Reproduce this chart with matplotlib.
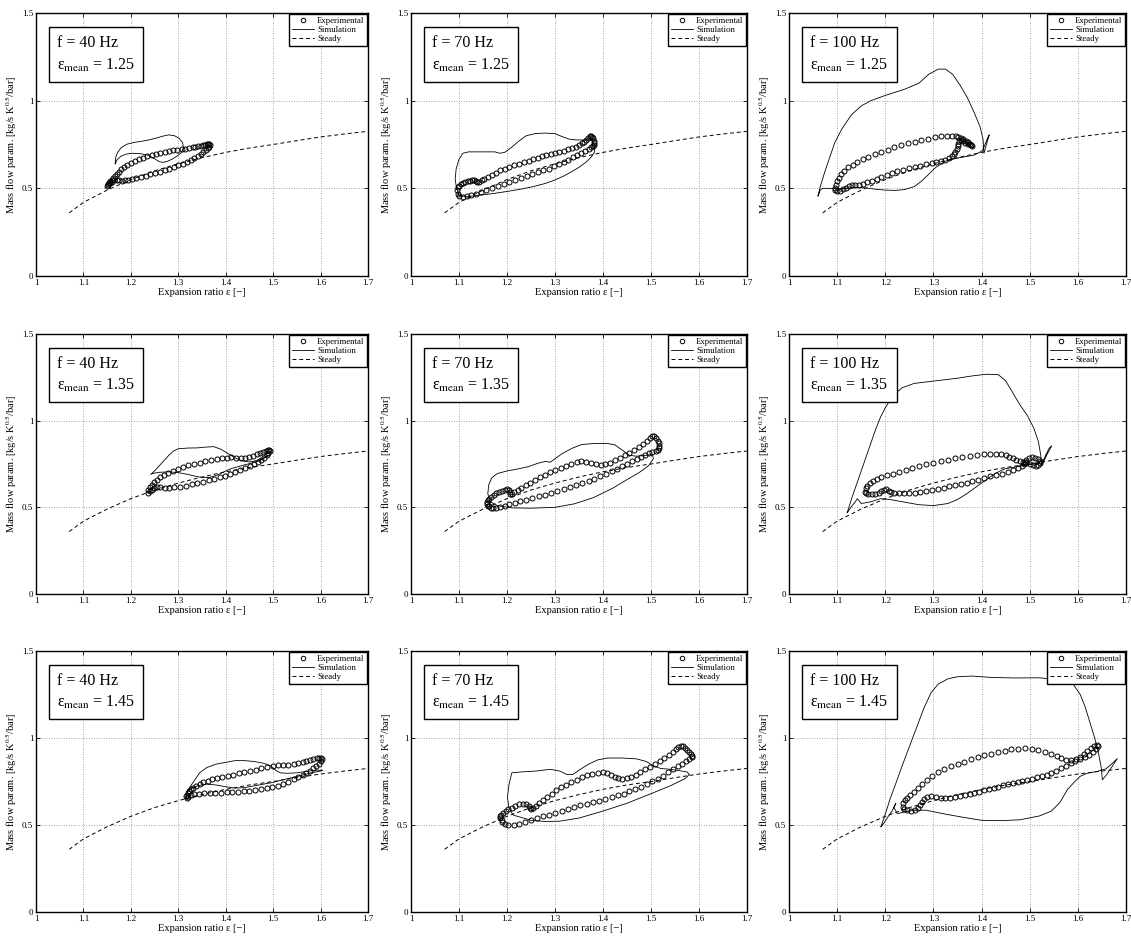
import numpy as np
import matplotlib
matplotlib.use('Agg')
import matplotlib.pyplot as plt

plt.rcParams['font.family'] = ['Liberation Serif', 'DejaVu Serif']
plt.rcParams['mathtext.fontset'] = 'stix'
plt.rcParams['mathtext.rm'] = 'Liberation Serif'

FREQS = [40, 70, 100]
EPS_MEANS = [1.25, 1.35, 1.45]
X_TICKS = [1.0, 1.1, 1.2, 1.3, 1.4, 1.5, 1.6, 1.7]
X_TICKLABELS = ['1', '1.1', '1.2', '1.3', '1.4', '1.5', '1.6', '1.7']
Y_TICKS = [0.0, 0.5, 1.0, 1.5]
Y_TICKLABELS = ['0', '0.5', '1', '1.5']

STEADY_X = [1.07, 1.10, 1.15, 1.20, 1.25, 1.30, 1.35, 1.40, 1.45, 1.50, 1.55, 1.60, 1.65, 1.70]
STEADY_Y = [0.36, 0.42, 0.49, 0.55, 0.60, 0.64, 0.675, 0.705, 0.73, 0.75, 0.772, 0.793, 0.81, 0.825]

# ---------------- 40 Hz, eps_mean = 1.25 ----------------
EXP_40_125 = [(1.150,0.515),(1.152,0.522),(1.154,0.530),(1.157,0.540),(1.160,0.550),(1.163,0.560),(1.166,0.570),
 (1.170,0.582),(1.174,0.595),(1.179,0.608),(1.185,0.620),(1.192,0.633),(1.200,0.645),(1.208,0.656),(1.217,0.666),
 (1.226,0.675),(1.235,0.683),(1.244,0.690),(1.253,0.696),(1.262,0.701),(1.271,0.706),(1.280,0.711),(1.289,0.716),
 (1.298,0.720),(1.307,0.724),(1.315,0.727),(1.323,0.730),(1.330,0.733),(1.336,0.736),(1.342,0.739),(1.347,0.742),
 (1.352,0.745),(1.356,0.748),(1.360,0.750),(1.363,0.752),(1.365,0.751),
 (1.366,0.745),(1.365,0.738),(1.362,0.728),(1.358,0.717),(1.353,0.705),(1.347,0.693),(1.341,0.682),(1.334,0.671),
 (1.326,0.660),(1.318,0.650),(1.309,0.640),(1.300,0.631),(1.291,0.622),(1.281,0.613),(1.271,0.604),(1.261,0.596),
 (1.251,0.588),(1.241,0.580),(1.231,0.573),(1.221,0.566),(1.211,0.559),(1.202,0.553),(1.194,0.548),(1.187,0.545),
 (1.181,0.544),(1.175,0.546),(1.170,0.549),(1.165,0.545),(1.160,0.537),(1.155,0.528),(1.151,0.518)]
SIM_40_125 = [(1.167,0.640),(1.168,0.675),(1.172,0.705),(1.180,0.733),(1.192,0.752),(1.207,0.762),(1.222,0.768),
 (1.238,0.776),(1.254,0.787),(1.268,0.798),(1.280,0.805),(1.292,0.800),(1.302,0.785),(1.309,0.760),(1.311,0.730),
 (1.307,0.705),(1.298,0.685),(1.288,0.668),(1.278,0.655),(1.268,0.648),(1.260,0.652),(1.252,0.665),(1.243,0.680),
 (1.232,0.692),(1.218,0.698),(1.203,0.700),(1.190,0.695),(1.179,0.683),(1.171,0.663),(1.167,0.640)]

# ---------------- 70 Hz, eps_mean = 1.25 ----------------
EXP_70_125 = [(1.101,0.455),(1.097,0.470),(1.096,0.490),(1.097,0.505),(1.100,0.515),(1.104,0.525),(1.108,0.532),
 (1.113,0.537),(1.118,0.540),(1.123,0.542),(1.128,0.545),(1.132,0.545),(1.135,0.540),(1.138,0.535),(1.142,0.537),
 (1.147,0.545),(1.153,0.555),(1.160,0.566),(1.168,0.578),(1.177,0.590),(1.186,0.602),(1.195,0.613),(1.205,0.623),
 (1.215,0.632),(1.225,0.640),(1.235,0.648),(1.245,0.656),(1.255,0.665),(1.264,0.675),(1.273,0.685),(1.282,0.692),
 (1.291,0.698),(1.300,0.704),(1.309,0.709),(1.318,0.715),(1.327,0.722),(1.335,0.730),(1.343,0.738),(1.350,0.747),
 (1.356,0.757),(1.361,0.767),(1.365,0.777),(1.369,0.787),(1.372,0.796),(1.375,0.800),(1.377,0.795),(1.379,0.785),
 (1.381,0.772),(1.382,0.760),
 (1.382,0.748),(1.380,0.740),(1.376,0.733),(1.370,0.725),(1.362,0.715),(1.354,0.703),(1.346,0.690),(1.337,0.676),
 (1.328,0.663),(1.318,0.650),(1.308,0.637),(1.298,0.625),(1.287,0.613),(1.276,0.602),(1.265,0.591),(1.253,0.580),
 (1.241,0.569),(1.229,0.558),(1.217,0.547),(1.205,0.536),(1.193,0.525),(1.181,0.513),(1.169,0.501),(1.157,0.489),
 (1.146,0.478),(1.135,0.469),(1.125,0.461),(1.116,0.456),(1.108,0.453)]
SIM_70_125 = [(1.100,0.460),(1.095,0.500),(1.092,0.550),(1.094,0.610),(1.100,0.665),(1.108,0.700),(1.120,0.708),
 (1.140,0.708),(1.160,0.708),(1.175,0.708),(1.185,0.700),(1.195,0.705),(1.210,0.735),(1.225,0.770),(1.240,0.800),
 (1.260,0.813),(1.280,0.815),(1.300,0.812),(1.315,0.795),(1.330,0.780),(1.345,0.776),(1.358,0.776),(1.370,0.778),
 (1.378,0.772),(1.383,0.740),(1.382,0.705),(1.376,0.680),(1.365,0.650),(1.350,0.620),(1.335,0.595),(1.318,0.570),
 (1.300,0.548),(1.280,0.528),(1.255,0.510),(1.230,0.496),(1.200,0.482),(1.170,0.470),(1.140,0.460),(1.115,0.452),
 (1.100,0.460)]

# ---------------- 100 Hz, eps_mean = 1.25 ----------------
EXP_100_125 = [(1.095,0.500),(1.097,0.520),(1.100,0.540),(1.104,0.560),(1.109,0.580),(1.115,0.600),(1.123,0.620),
 (1.132,0.635),(1.142,0.650),(1.153,0.665),(1.165,0.680),(1.178,0.694),(1.191,0.707),(1.205,0.720),(1.219,0.733),
 (1.233,0.745),(1.247,0.756),(1.261,0.766),(1.275,0.775),(1.289,0.784),(1.303,0.792),(1.316,0.798),(1.328,0.801),
 (1.338,0.800),(1.346,0.797),(1.352,0.793),(1.357,0.787),(1.362,0.780),(1.367,0.772),(1.372,0.763),(1.376,0.754),
 (1.379,0.747),(1.381,0.742),(1.378,0.745),(1.372,0.752),(1.366,0.760),(1.361,0.770),(1.357,0.778),(1.354,0.770),
 (1.352,0.755),(1.350,0.740),(1.348,0.725),(1.345,0.710),(1.342,0.695),(1.338,0.682),(1.332,0.672),(1.325,0.664),
 (1.316,0.656),(1.306,0.649),(1.296,0.643),(1.285,0.637),(1.273,0.630),(1.261,0.623),(1.249,0.615),(1.237,0.607),
 (1.225,0.598),(1.214,0.589),(1.203,0.578),(1.192,0.566),(1.182,0.555),(1.172,0.544),(1.163,0.534),(1.154,0.526),
 (1.145,0.521),(1.137,0.519),(1.130,0.518),(1.124,0.512),(1.118,0.503),(1.112,0.494),(1.106,0.487),(1.100,0.484),
 (1.096,0.490)]
SIM_100_125 = [(1.062,0.470),(1.060,0.455),(1.065,0.510),(1.075,0.600),(1.085,0.680),(1.095,0.760),(1.110,0.840),
 (1.130,0.920),(1.150,0.970),(1.170,1.000),(1.200,1.030),(1.240,1.065),(1.270,1.100),(1.290,1.150),(1.310,1.180),
 (1.325,1.180),(1.340,1.150),(1.355,1.090),(1.370,1.020),(1.385,0.930),(1.397,0.850),(1.403,0.780),(1.405,0.700),
 (1.410,0.750),(1.416,0.805),(1.413,0.790),(1.402,0.715),(1.385,0.690),(1.365,0.680),(1.345,0.670),(1.325,0.655),
 (1.305,0.620),(1.290,0.580),(1.275,0.540),(1.260,0.510),(1.240,0.493),(1.220,0.488),(1.200,0.490),(1.180,0.495),
 (1.160,0.502),(1.140,0.505),(1.120,0.500),(1.100,0.498),(1.080,0.500),(1.070,0.500),(1.065,0.490),(1.062,0.470)]

# ---------------- 40 Hz, eps_mean = 1.35 ----------------
EXP_40_135 = [(1.236,0.585),(1.237,0.600),(1.240,0.615),(1.244,0.630),(1.249,0.645),(1.255,0.660),(1.262,0.674),
 (1.270,0.688),(1.279,0.700),(1.289,0.712),(1.299,0.723),(1.310,0.733),(1.321,0.742),(1.333,0.750),(1.345,0.758),
 (1.357,0.766),(1.369,0.773),(1.381,0.779),(1.392,0.784),(1.402,0.787),(1.412,0.788),(1.422,0.786),(1.432,0.785),
 (1.441,0.787),(1.449,0.791),(1.457,0.797),(1.465,0.805),(1.472,0.813),(1.478,0.820),(1.484,0.826),(1.489,0.830),
 (1.492,0.830),
 (1.493,0.825),(1.490,0.812),(1.486,0.800),(1.481,0.787),(1.475,0.774),(1.468,0.761),(1.460,0.749),(1.451,0.737),
 (1.441,0.725),(1.431,0.714),(1.420,0.703),(1.409,0.692),(1.398,0.682),(1.387,0.673),(1.376,0.664),(1.364,0.656),
 (1.352,0.648),(1.340,0.640),(1.328,0.632),(1.316,0.625),(1.304,0.619),(1.292,0.615),(1.281,0.613),(1.271,0.614),
 (1.262,0.617),(1.255,0.619),(1.249,0.612),(1.244,0.602),(1.240,0.592)]
SIM_40_135 = [(1.242,0.690),(1.250,0.710),(1.260,0.740),(1.270,0.770),(1.280,0.800),(1.290,0.825),(1.300,0.838),
 (1.320,0.842),(1.340,0.843),(1.360,0.848),(1.375,0.850),(1.390,0.835),(1.405,0.810),(1.420,0.785),(1.435,0.768),
 (1.450,0.762),(1.465,0.770),(1.480,0.785),(1.490,0.800),(1.485,0.790),(1.470,0.768),(1.450,0.752),(1.430,0.738),
 (1.410,0.722),(1.395,0.703),(1.380,0.684),(1.365,0.672),(1.350,0.672),(1.335,0.680),(1.320,0.690),(1.300,0.700),
 (1.280,0.705),(1.260,0.702),(1.245,0.695)]

# ---------------- 70 Hz, eps_mean = 1.35 ----------------
EXP_70_135 = [(1.160,0.510),(1.158,0.520),(1.158,0.530),(1.160,0.540),(1.163,0.550),(1.167,0.560),(1.172,0.570),
 (1.177,0.580),(1.183,0.590),(1.189,0.597),(1.195,0.602),(1.200,0.603),(1.204,0.598),(1.206,0.588),(1.207,0.578),
 (1.210,0.578),(1.215,0.588),(1.222,0.600),(1.230,0.614),(1.239,0.628),(1.248,0.643),(1.258,0.658),(1.268,0.673),
 (1.279,0.688),(1.290,0.702),(1.301,0.715),(1.312,0.728),(1.323,0.740),(1.334,0.752),(1.345,0.761),(1.355,0.765),
 (1.365,0.762),(1.375,0.755),(1.385,0.748),(1.395,0.745),(1.405,0.748),(1.415,0.758),(1.425,0.771),(1.435,0.785),
 (1.445,0.800),(1.455,0.815),(1.465,0.830),(1.475,0.846),(1.484,0.863),(1.491,0.880),(1.497,0.898),(1.502,0.910),
 (1.507,0.910),(1.511,0.900),(1.514,0.885),(1.516,0.870),(1.517,0.855),(1.517,0.840),
 (1.515,0.830),(1.510,0.825),(1.503,0.820),(1.496,0.812),(1.488,0.803),(1.479,0.792),(1.470,0.780),(1.460,0.766),
 (1.450,0.752),(1.440,0.737),(1.429,0.722),(1.418,0.707),(1.406,0.692),(1.394,0.678),(1.382,0.665),(1.370,0.653),
 (1.357,0.641),(1.344,0.629),(1.331,0.617),(1.318,0.605),(1.305,0.594),(1.292,0.584),(1.279,0.574),(1.266,0.564),
 (1.253,0.554),(1.240,0.545),(1.228,0.536),(1.216,0.527),(1.205,0.518),(1.195,0.509),(1.186,0.501),(1.178,0.495),
 (1.171,0.494),(1.166,0.498),(1.162,0.505)]
SIM_70_135 = [(1.164,0.534),(1.160,0.580),(1.162,0.630),(1.168,0.670),(1.180,0.695),(1.200,0.710),(1.220,0.720),
 (1.245,0.735),(1.265,0.755),(1.280,0.765),(1.290,0.760),(1.300,0.780),(1.315,0.810),(1.335,0.840),(1.355,0.862),
 (1.380,0.868),(1.410,0.868),(1.425,0.860),(1.440,0.830),(1.455,0.800),(1.470,0.795),(1.490,0.800),(1.503,0.805),
 (1.505,0.780),(1.495,0.740),(1.475,0.700),(1.450,0.660),(1.420,0.610),(1.380,0.556),(1.340,0.520),(1.300,0.500),
 (1.250,0.495),(1.210,0.497),(1.180,0.510),(1.164,0.534)]

# ---------------- 100 Hz, eps_mean = 1.35 ----------------
EXP_100_135 = [(1.158,0.590),(1.160,0.610),(1.163,0.625),(1.168,0.638),(1.175,0.650),(1.183,0.662),(1.192,0.673),
 (1.203,0.684),(1.215,0.695),(1.228,0.706),(1.242,0.717),(1.256,0.728),(1.270,0.738),(1.285,0.748),(1.300,0.757),
 (1.315,0.766),(1.330,0.775),(1.345,0.783),(1.360,0.790),(1.375,0.797),(1.390,0.803),(1.405,0.808),(1.418,0.810),
 (1.430,0.810),(1.440,0.807),(1.450,0.800),(1.458,0.792),(1.465,0.783),(1.472,0.774),(1.479,0.766),(1.486,0.760),
 (1.493,0.755),
 (1.500,0.750),(1.507,0.743),(1.513,0.740),(1.518,0.745),(1.521,0.755),(1.521,0.767),(1.518,0.778),(1.512,0.786),
 (1.505,0.788),(1.498,0.782),(1.493,0.772),(1.490,0.760),(1.488,0.750),
 (1.484,0.738),(1.476,0.725),(1.466,0.713),(1.455,0.703),(1.443,0.694),(1.430,0.686),(1.417,0.678),(1.405,0.669),
 (1.393,0.659),(1.381,0.650),(1.369,0.642),(1.357,0.635),(1.345,0.628),(1.333,0.621),(1.321,0.614),(1.309,0.607),
 (1.297,0.600),(1.285,0.594),(1.273,0.589),(1.261,0.585),(1.249,0.582),(1.238,0.580),(1.228,0.580),(1.219,0.582),
 (1.212,0.588),(1.207,0.597),(1.202,0.604),(1.197,0.602),(1.192,0.594),(1.186,0.585),(1.179,0.579),(1.172,0.577),
 (1.165,0.578),(1.160,0.583)]
SIM_100_135 = [(1.121,0.470),(1.130,0.550),(1.140,0.630),(1.150,0.710),(1.160,0.790),(1.170,0.870),(1.180,0.950),
 (1.190,1.020),(1.200,1.075),(1.215,1.140),(1.235,1.190),(1.260,1.215),(1.290,1.225),(1.320,1.235),(1.350,1.245),
 (1.380,1.258),(1.410,1.268),(1.435,1.265),(1.450,1.230),(1.465,1.160),(1.480,1.090),(1.495,1.030),(1.508,0.960),
 (1.518,0.880),(1.523,0.800),(1.525,0.740),(1.535,0.800),(1.546,0.856),(1.540,0.840),(1.528,0.770),(1.515,0.752),
 (1.495,0.746),(1.470,0.733),(1.448,0.722),(1.428,0.695),(1.410,0.660),(1.390,0.620),(1.370,0.580),(1.350,0.545),
 (1.330,0.522),(1.300,0.510),(1.270,0.515),(1.240,0.530),(1.210,0.545),(1.190,0.550),(1.170,0.532),(1.150,0.522),
 (1.142,0.550),(1.137,0.530),(1.130,0.505),(1.121,0.470)]

# ---------------- 40 Hz, eps_mean = 1.45 ----------------
EXP_40_145 = [(1.318,0.655),(1.317,0.665),(1.318,0.675),(1.320,0.685),(1.323,0.695),(1.327,0.705),(1.332,0.715),
 (1.338,0.725),(1.345,0.735),(1.353,0.745),(1.362,0.754),(1.372,0.762),(1.382,0.769),(1.393,0.776),(1.404,0.783),
 (1.415,0.790),(1.427,0.797),(1.439,0.804),(1.451,0.811),(1.463,0.818),(1.475,0.825),(1.487,0.832),(1.499,0.838),
 (1.510,0.842),(1.521,0.845),(1.532,0.847),(1.543,0.850),(1.553,0.855),(1.562,0.862),(1.570,0.869),(1.578,0.876),
 (1.585,0.882),(1.592,0.886),(1.597,0.887),(1.601,0.884),
 (1.602,0.877),(1.600,0.865),(1.596,0.852),(1.591,0.839),(1.585,0.826),(1.578,0.813),(1.570,0.800),(1.562,0.787),
 (1.553,0.775),(1.543,0.762),(1.532,0.748),(1.521,0.735),(1.510,0.725),(1.498,0.716),(1.486,0.710),(1.474,0.705),
 (1.462,0.700),(1.450,0.697),(1.438,0.694),(1.426,0.692),(1.414,0.690),(1.402,0.688),(1.390,0.686),(1.378,0.685),
 (1.366,0.684),(1.354,0.683),(1.343,0.681),(1.334,0.677),(1.327,0.670),(1.321,0.662)]
SIM_40_145 = [(1.318,0.690),(1.325,0.720),(1.335,0.760),(1.345,0.800),(1.360,0.830),(1.380,0.850),(1.400,0.860),
 (1.420,0.870),(1.440,0.870),(1.460,0.865),(1.480,0.855),(1.495,0.840),(1.505,0.815),(1.515,0.800),(1.530,0.797),
 (1.550,0.800),(1.570,0.808),(1.590,0.815),(1.605,0.815),(1.600,0.810),(1.580,0.800),(1.560,0.785),(1.540,0.772),
 (1.520,0.760),(1.500,0.745),(1.480,0.735),(1.460,0.725),(1.440,0.715),(1.420,0.712),(1.400,0.720),(1.380,0.730),
 (1.360,0.735),(1.340,0.725),(1.325,0.705),(1.318,0.690)]

# ---------------- 70 Hz, eps_mean = 1.45 ----------------
EXP_70_145 = [(1.190,0.530),(1.186,0.540),(1.186,0.550),(1.188,0.560),(1.192,0.570),(1.197,0.580),(1.203,0.590),
 (1.210,0.600),(1.217,0.610),(1.225,0.618),(1.233,0.622),(1.240,0.620),(1.245,0.612),(1.248,0.600),(1.250,0.592),
 (1.254,0.595),(1.260,0.610),(1.267,0.627),(1.275,0.645),(1.284,0.663),(1.293,0.681),(1.303,0.699),(1.313,0.716),
 (1.323,0.732),(1.334,0.747),(1.345,0.761),(1.356,0.774),(1.367,0.785),(1.378,0.794),(1.389,0.800),(1.399,0.802),
 (1.408,0.798),(1.416,0.788),(1.424,0.777),(1.432,0.768),(1.440,0.765),(1.449,0.768),(1.458,0.776),(1.468,0.788),
 (1.478,0.803),(1.488,0.819),(1.498,0.835),(1.508,0.851),(1.518,0.868),(1.528,0.885),(1.537,0.902),(1.545,0.920),
 (1.552,0.937),(1.557,0.949),(1.562,0.955),(1.567,0.952),(1.571,0.942),(1.575,0.930),(1.579,0.918),(1.583,0.906),
 (1.586,0.895),
 (1.585,0.888),(1.580,0.878),(1.573,0.866),(1.565,0.852),(1.556,0.837),(1.546,0.820),(1.536,0.802),(1.525,0.784),
 (1.514,0.767),(1.503,0.751),(1.491,0.735),(1.479,0.720),(1.467,0.706),(1.455,0.693),(1.443,0.681),(1.431,0.670),
 (1.418,0.659),(1.405,0.649),(1.392,0.640),(1.379,0.631),(1.366,0.622),(1.353,0.613),(1.340,0.603),(1.327,0.593),
 (1.314,0.582),(1.301,0.571),(1.288,0.560),(1.275,0.549),(1.262,0.538),(1.250,0.527),(1.238,0.516),(1.226,0.507),
 (1.214,0.502),(1.203,0.501),(1.195,0.506),(1.190,0.515)]
SIM_70_145 = [(1.212,0.560),(1.204,0.600),(1.201,0.660),(1.204,0.730),(1.210,0.800),(1.230,0.805),(1.260,0.810),
 (1.290,0.820),(1.310,0.810),(1.325,0.790),(1.337,0.790),(1.350,0.815),(1.370,0.850),(1.390,0.875),(1.410,0.885),
 (1.440,0.885),(1.470,0.880),(1.490,0.865),(1.505,0.840),(1.520,0.825),(1.540,0.820),(1.560,0.812),(1.575,0.805),
 (1.580,0.790),(1.570,0.765),(1.540,0.725),(1.500,0.680),(1.450,0.625),(1.400,0.580),(1.350,0.540),(1.310,0.522),
 (1.280,0.520),(1.250,0.527),(1.228,0.545),(1.215,0.555),(1.212,0.560)]

# ---------------- 100 Hz, eps_mean = 1.45 ----------------
EXP_100_145 = [(1.241,0.645),(1.237,0.625),(1.236,0.605),(1.239,0.592),(1.245,0.584),(1.253,0.581),(1.261,0.586),
 (1.268,0.598),(1.273,0.615),(1.277,0.635),(1.281,0.652),(1.287,0.662),(1.295,0.664),(1.305,0.661),(1.315,0.658),
 (1.325,0.656),(1.335,0.656),(1.345,0.659),(1.355,0.664),(1.365,0.670),(1.375,0.677),(1.385,0.684),(1.395,0.692),
 (1.405,0.700),(1.415,0.707),(1.425,0.714),(1.435,0.721),(1.445,0.728),(1.455,0.735),(1.465,0.742),(1.475,0.749),
 (1.485,0.755),(1.495,0.761),(1.505,0.767),(1.515,0.773),(1.525,0.780),(1.535,0.789),(1.545,0.800),(1.555,0.812),
 (1.565,0.825),(1.575,0.840),(1.585,0.855),(1.595,0.869),(1.605,0.880),(1.615,0.890),(1.624,0.903),(1.632,0.920),
 (1.638,0.938),(1.642,0.953),(1.640,0.960),(1.634,0.955),(1.627,0.942),(1.620,0.925),(1.613,0.907),(1.605,0.892),
 (1.596,0.880),(1.586,0.874),(1.576,0.876),(1.566,0.884),(1.556,0.896),(1.545,0.908),(1.532,0.920),(1.518,0.930),
 (1.504,0.937),(1.490,0.940),(1.476,0.939),(1.462,0.934),(1.448,0.927),(1.434,0.919),(1.420,0.910),(1.406,0.900),
 (1.392,0.889),(1.378,0.877),(1.364,0.864),(1.350,0.850),(1.336,0.838),(1.322,0.822),(1.309,0.803),(1.297,0.781),
 (1.286,0.758),(1.276,0.734),(1.267,0.711),(1.259,0.689),(1.252,0.670),(1.246,0.655)]
SIM_100_145 = [(1.191,0.490),(1.196,0.530),(1.202,0.580),(1.210,0.650),(1.222,0.740),(1.235,0.840),(1.250,0.950),
 (1.265,1.060),(1.280,1.170),(1.295,1.260),(1.310,1.310),(1.330,1.340),(1.350,1.352),(1.380,1.356),(1.420,1.348),
 (1.470,1.345),(1.520,1.346),(1.560,1.335),(1.590,1.310),(1.605,1.250),(1.615,1.180),(1.625,1.090),(1.635,1.000),
 (1.643,0.910),(1.648,0.840),(1.651,0.760),(1.660,0.790),(1.672,0.840),(1.682,0.882),(1.672,0.855),(1.658,0.822),
 (1.640,0.808),(1.620,0.798),(1.605,0.780),(1.592,0.745),(1.578,0.702),(1.563,0.630),(1.545,0.580),(1.520,0.552),
 (1.480,0.530),(1.440,0.525),(1.400,0.527),(1.360,0.545),(1.320,0.565),(1.285,0.585),(1.260,0.585),(1.240,0.575),
 (1.225,0.565),(1.218,0.600),(1.222,0.625),(1.214,0.580),(1.205,0.545),(1.197,0.510),(1.191,0.490)]

EXP = {(40, 1.25): EXP_40_125, (70, 1.25): EXP_70_125, (100, 1.25): EXP_100_125,
       (40, 1.35): EXP_40_135, (70, 1.35): EXP_70_135, (100, 1.35): EXP_100_135,
       (40, 1.45): EXP_40_145, (70, 1.45): EXP_70_145, (100, 1.45): EXP_100_145}
SIM = {(40, 1.25): SIM_40_125, (70, 1.25): SIM_70_125, (100, 1.25): SIM_100_125,
       (40, 1.35): SIM_40_135, (70, 1.35): SIM_70_135, (100, 1.35): SIM_100_135,
       (40, 1.45): SIM_40_145, (70, 1.45): SIM_70_145, (100, 1.45): SIM_100_145}

W, H = 1131, 940
fig = plt.figure(figsize=(W / 100, H / 100), dpi=100)
fig.patch.set_facecolor('white')

col_left = [36, 411, 789]
col_width = [332, 336, 337]
row_top = [13, 334, 651]
row_height = [263, 260, 261]

for r, em in enumerate(EPS_MEANS):
    for c, f in enumerate(FREQS):
        ax = fig.add_axes([col_left[c] / W, 1 - (row_top[r] + row_height[r]) / H,
                           col_width[c] / W, row_height[r] / H])
        ex = np.array(EXP[(f, em)])
        sm = np.array(SIM[(f, em)])
        ax.plot(ex[:, 0], ex[:, 1], 'o', mfc='none', mec='k', ms=3.6, mew=0.7,
                label='Experimental', zorder=3)
        ax.plot(sm[:, 0], sm[:, 1], '-', color='k', lw=0.6, label='Simulation', zorder=2)
        ax.plot(STEADY_X, STEADY_Y, '--', color='k', lw=0.7, dashes=(4, 3),
                label='Steady', zorder=2)
        ax.set_xlim(1.0, 1.7)
        ax.set_ylim(0.0, 1.5)
        ax.set_xticks(X_TICKS)
        ax.set_xticklabels(X_TICKLABELS)
        ax.set_yticks(Y_TICKS)
        ax.set_yticklabels(Y_TICKLABELS)
        ax.tick_params(direction='in', top=True, right=True, labelsize=6.5,
                       length=3, width=0.6, pad=2)
        ax.grid(True, linestyle=(0, (1, 2)), color='#888888', linewidth=0.6)
        for s in ax.spines.values():
            s.set_linewidth(1.0)
        ax.set_xlabel('Expansion ratio ε [−]', fontsize=7.5, labelpad=1)
        ax.set_ylabel('Mass flow param. [kg/s K$^{0.5}$/bar]', fontsize=7.5, labelpad=2)
        leg = ax.legend(loc='upper right', fontsize=6.3, frameon=True, fancybox=False,
                        edgecolor='k', framealpha=1, borderaxespad=0.12,
                        handlelength=2.6, handletextpad=0.3, borderpad=0.3,
                        labelspacing=0.12, markerscale=0.9)
        leg.get_frame().set_linewidth(1.0)
        ax.text(0.063, 0.915, 'f = %d Hz\nε$_{\\mathrm{mean}}$ = %.2f' % (f, em),
                transform=ax.transAxes, ha='left', va='top', fontsize=11.5,
                linespacing=1.4,
                bbox=dict(boxstyle='square,pad=0.5', fc='white', ec='k', lw=1.0),
                zorder=5)

fig.savefig('out.png', dpi=100, facecolor='white')
